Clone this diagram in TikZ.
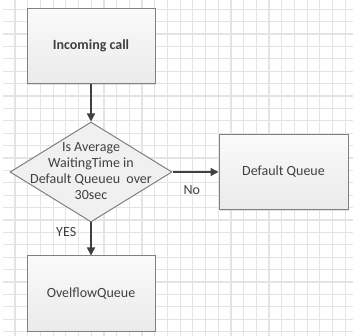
\documentclass[tikz,border=0pt]{standalone}
\usepackage{fontspec}
\setmainfont{Carlito}
\usetikzlibrary{positioning}
\usetikzlibrary{arrows.meta}
\usetikzlibrary{shapes.geometric}
\usetikzlibrary{shadows}
\definecolor{ink}{RGB}{64,64,64}
\definecolor{edge}{RGB}{128,128,128}
\definecolor{gridc}{RGB}{228,228,228}
\tikzset{
    gridline/.style={gridc, line width=1.2pt},
    stepbox/.style={draw=edge, line width=1pt, top color=gray!4, bottom color=gray!16,
        drop shadow={shadow xshift=1.2pt, shadow yshift=-1.2pt, fill=gray!45},
        minimum width=128pt, minimum height=75pt, text=ink, inner sep=0pt},
    decision/.style={diamond, draw=edge, line width=1pt, fill=gray!12,
        minimum width=162pt, minimum height=100pt, inner sep=0pt},
    flow/.style={draw=ink, line width=1.6pt, -{Triangle[length=8pt,width=8pt]}},
    tag/.style={text=ink, inner sep=0pt}
}

\begin{document}
\begin{tikzpicture}[x=1pt, y=-1pt, every node/.style={font=\fontsize{14}{16}\selectfont}]
    \useasboundingbox (0,0) rectangle (353,336);
    \fill[white] (0,0) rectangle (353,336);

    % background grid
    \foreach \i in {0,...,26} {
        \pgfmathsetmacro\x{15+12.7*\i}
        \draw[gridline] (\x,0) -- (\x,336);
    }
    \foreach \i in {0,...,26} {
        \pgfmathsetmacro\y{9.3+12.4*\i}
        \draw[gridline] (3,\y) -- (353,\y);
    }

    \node[stepbox, font=\fontsize{14}{16}\selectfont\bfseries] (call) at (91,46) {Incoming call};
    \node[decision] (check) at (91,172) {};
    \node[tag, align=center] (checktext) at (91,171) {Is Average\\WaitingTime in\\Default Queueu\ \ over\\30sec};
    \node[stepbox, minimum width=129pt] (dq) at (283.5,172) {Default Queue};
    \node[stepbox] (ovf) at (91,293.5) {OvelflowQueue};

    \draw[flow] (call) -- (check);
    \draw[flow] (check.east) -- node[tag, below=13pt, pos=0.42] (no) {No} (dq);
    \draw[flow] (check.south) -- node[tag, left=14pt, pos=0.3] (yes) {YES} (ovf);
\end{tikzpicture}
\end{document}
